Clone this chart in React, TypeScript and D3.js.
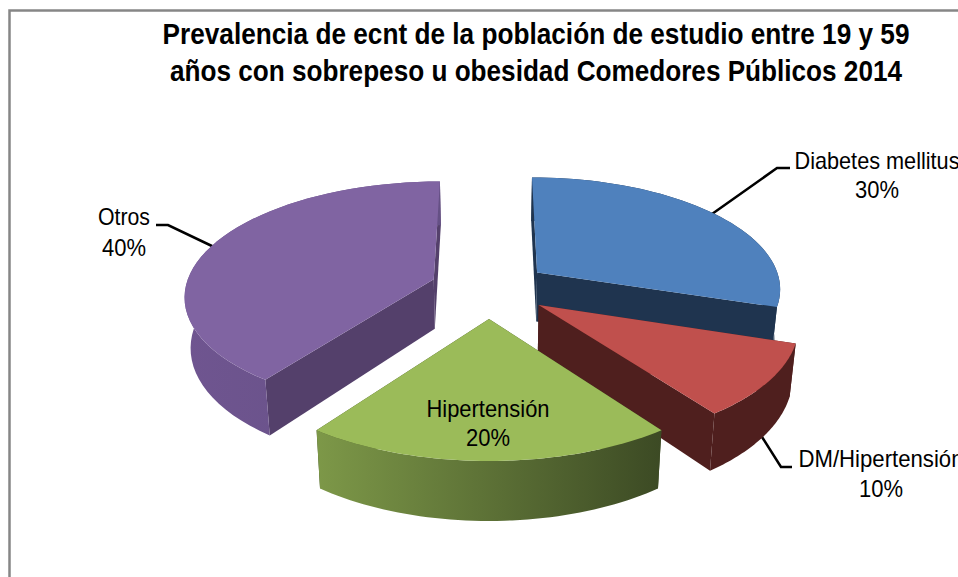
import React from "react";
import * as d3 from "d3";

const categories = ["Diabetes mellitus", "DM/Hipertensión", "Hipertensión", "Otros"];
const values = [30, 10, 20, 40];
const percentLabels = ["30%", "10%", "20%", "40%"];
const titleLines = [
  "Prevalencia de ecnt de la población de estudio entre 19 y 59",
  "años con sobrepeso u obesidad Comedores Públicos 2014",
];

const W = 958, H = 577;
const X0 = 490, Y0 = 289, SCALE = 252, TILT = 0.455, D = 7.3, EXPLODE = 0.22, DEPTH = 50, SHRINK = 0.02;
const nudgeX = [3, 3, -1, -4];
const nudgeY = [-2, 1, 4, -2];
const radiusK = [0.97, 1, 1, 0.985];
const topCol = ["#4F81BD", "#C0504D", "#9BBB59", "#8064A2"];
const wallCol = ["#1F344F", "#4F1F1E", "#3F4D24", "#54406B"];
const gradL = ["#1F344F", "#4F1F1E", "#7D9848", "#6F5590"];
const gradR = ["#1F344F", "#4F1F1E", "#3C4A24", "#655085"];

type P = [number, number];
const project = (u: number, v: number, down = 0): P => {
  const s = 1 / (1 - v / D);
  const x = u * SCALE * s * (1 - SHRINK * down);
  return [X0 + x, Y0 + TILT * SCALE * v * s + down * DEPTH * s];
};

const line = d3.line();
const arcs = d3.pie<number>().sort(null).startAngle(0).endAngle(2 * Math.PI)(values);

const paintOrder = [3, 0, 1, 2];

function slicePaths(i: number) {
  const a = arcs[i];
  const mid = (a.startAngle + a.endAngle) / 2;
  const ou = EXPLODE * Math.sin(mid), ov = -EXPLODE * Math.cos(mid);
  const n = 48;
  const angles = d3.range(n + 1).map((k) => a.startAngle + ((a.endAngle - a.startAngle) * k) / n);
  const r = radiusK[i];
  const rim = (down: number) => angles.map((t) => project(ou + r * Math.sin(t), ov - r * Math.cos(t), down));
  const apex = (down: number) => project(ou, ov, down);
  const topRim = rim(0), botRim = rim(1);
  const top = line([apex(0), ...topRim])! + "Z";
  const outer = line([...topRim, ...botRim.slice().reverse()])! + "Z";
  const wallA = line([apex(0), topRim[0], botRim[0], apex(1)])! + "Z";
  const wallB = line([apex(0), topRim[n], botRim[n], apex(1)])! + "Z";
  return { top, outer, wallA, wallB };
}

// Leader lines: [start on slice, elbow, end]
const leaders: P[][] = [
  [[712, 214], [777, 168], [790, 168]],
  [[762, 437], [781, 467], [792, 467]],
  [[214, 247], [168, 225], [156, 225]],
];
const labelPos = [
  { x: 877, y1: 169, y2: 198 },
  { x: 881, y1: 467, y2: 497 },
  { x: 488, y1: 417, y2: 446 },
  { x: 124, y1: 225, y2: 256 },
];

export default function App() {
  return (
    <svg width={W} height={H} viewBox={`0 0 ${W} ${H}`}
      style={{ position: "absolute", left: 0, top: 0, background: "#fff" }}
      fontFamily="'Liberation Sans', Arial, sans-serif">
      <defs>
        {topCol.map((_, i) => (
          <linearGradient key={i} id={`wall${i}`} x1="0" x2="1" y1="0" y2="0">
            <stop offset="0" stopColor={gradL[i]} />
            <stop offset="1" stopColor={gradR[i]} />
          </linearGradient>
        ))}
      </defs>
      <path d={`M9.5 ${H}V10.5H${W}`} fill="none" stroke="#868686" strokeWidth={2.5} />
      {titleLines.map((t, i) => (
        <text key={i} x={536} y={44 + i * 37} textAnchor="middle" fontSize={30} fontWeight="bold" fill="#000"
          textLength={i === 0 ? 747 : 732} lengthAdjust="spacingAndGlyphs">{t}</text>
      ))}
      {leaders.map((l, i) => (
        <path key={i} d={line(l)!} fill="none" stroke="#000" strokeWidth={2.5} />
      ))}
      {paintOrder.map((i) => {
        const p = slicePaths(i);
        return (
          <g key={i} transform={`translate(${nudgeX[i]},${nudgeY[i]})`}>
            <path d={p.wallA} fill={wallCol[i]} />
            <path d={p.wallB} fill={wallCol[i]} />
            <path d={p.outer} fill={`url(#wall${i})`} />
            <path d={p.top} fill={topCol[i]} />
          </g>
        );
      })}
      {categories.map((c, i) => (
        <g key={c} fontSize={24} fill="#000" textAnchor="middle">
          <text x={labelPos[i].x} y={labelPos[i].y1} textLength={c.length > 6 ? (i === 2 ? 123 : 165) : 52} lengthAdjust="spacingAndGlyphs">{c}</text>
          <text x={labelPos[i].x} y={labelPos[i].y2} textLength={44} lengthAdjust="spacingAndGlyphs">{percentLabels[i]}</text>
        </g>
      ))}
    </svg>
  );
}
